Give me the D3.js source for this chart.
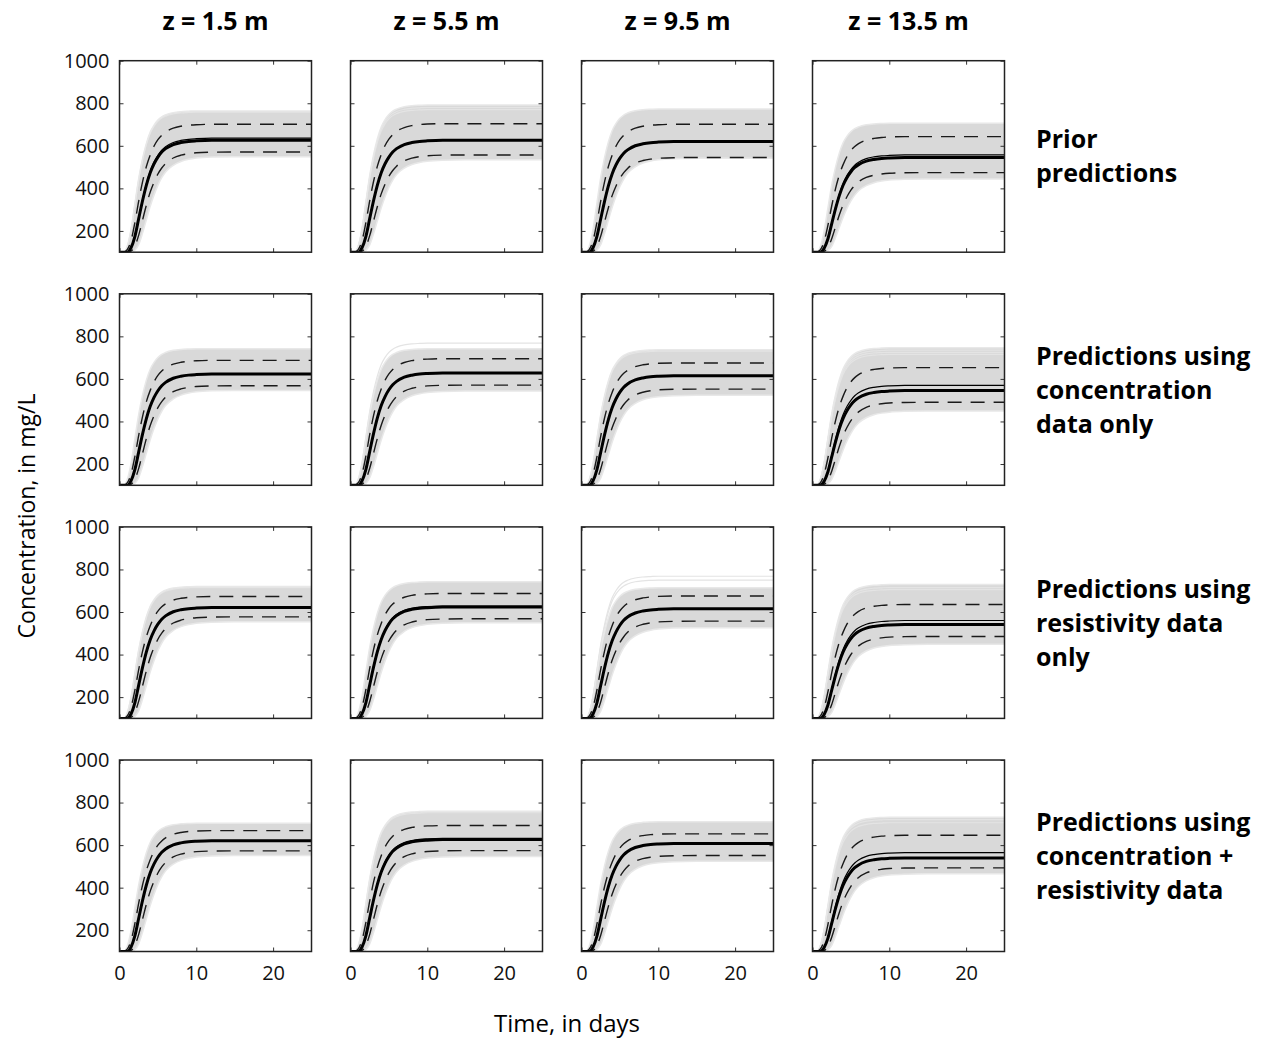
<!DOCTYPE html>
<head>
  <meta charset="utf-8">
  <script src="https://d3js.org/d3.v7.min.js"></script>
  <style>
    body { margin: 0; background: #fff; }
    svg { display: block; font-family: "Open Sans", sans-serif; }
  </style>
</head>
<body>
  <svg width="1263" height="1038"></svg>
  <script>
    // column / row headings
    const columns = ['z = 1.5 m', 'z = 5.5 m', 'z = 9.5 m', 'z = 13.5 m'];
    const rowLabels = [
      ['Prior', 'predictions'],
      ['Predictions using', 'concentration', 'data only'],
      ['Predictions using', 'resistivity data', 'only'],
      ['Predictions using', 'concentration +', 'resistivity data']
    ];
    const yTicks = [200, 400, 600, 800, 1000];
    const xTicks = [0, 10, 20];

    // time grid (days) and normalized breakthrough shapes
    const times = [0, 0.5, 1, 1.5, 2, 2.5, 3, 3.5, 4, 4.5, 5, 5.5, 6, 7, 8, 9, 10, 12, 15, 25];
    const shapeBandHi = [0, 0, 0.04, 0.16, 0.34, 0.52, 0.66, 0.77, 0.85, 0.9, 0.935, 0.958, 0.972, 0.988, 0.995, 0.998, 1, 1, 1, 1];
    const shapeDashHi = [0, 0, 0.02, 0.09, 0.23, 0.4, 0.55, 0.67, 0.76, 0.83, 0.88, 0.915, 0.94, 0.97, 0.985, 0.993, 0.997, 1, 1, 1];
    const shapeMean   = [0, 0, 0, 0.04, 0.14, 0.3, 0.46, 0.6, 0.71, 0.79, 0.85, 0.895, 0.925, 0.962, 0.98, 0.99, 0.995, 1, 1, 1];
    const shapeDashLo = [0, 0, 0, 0.01, 0.06, 0.17, 0.32, 0.47, 0.6, 0.7, 0.78, 0.84, 0.885, 0.94, 0.968, 0.983, 0.992, 0.998, 1, 1];
    const shapeBandLo = [0, 0, 0, 0, 0.02, 0.08, 0.2, 0.34, 0.48, 0.6, 0.7, 0.78, 0.84, 0.91, 0.95, 0.972, 0.985, 0.996, 1, 1];
    const baseConc = 100;

    // plateau levels (mg/L) per row (data set) x column (depth)
    const bandHi  = [[764, 792, 773, 706], [742, 742, 737, 746], [720, 742, 714, 729], [703, 759, 710, 731]];
    const dashHi  = [[701, 704, 701, 643], [687, 695, 675, 653], [673, 687, 675, 635], [668, 692, 653, 646]];
    const meanLvl = [[626, 626, 620, 545], [623, 628, 615, 545], [621, 623, 615, 541], [621, 626, 608, 540]];
    const thinLvl = [[636, null, null, 557], [null, null, null, 570], [null, 628, null, 560], [null, 632, null, 565]];
    const dashLo  = [[571, 557, 545, 474], [568, 571, 552, 490], [577, 568, 557, 485], [573, 574, 551, 493]];
    const bandLo  = [[549, 534, 541, 444], [546, 543, 523, 449], [554, 549, 526, 448], [551, 546, 524, 465]];
    // a few pale ensemble members standing out at the top of the band
    const paleLvl = [
      [[758], [780, 770], [], []],
      [[], [768], [730], [735, 725, 715]],
      [[715], [], [768, 750], [715, 705]],
      [[], [752], [], [720, 705]]
    ];

    // layout
    const left0 = 119.5, colStep = 231, top0 = 60.7, rowStep = 233.1;
    const pw = 192, ph = 191.5;

    const svg = d3.select('svg');

    const x = d3.scaleLinear().domain([0, 25]).range([0, pw]);
    const y = d3.scaleLinear().domain([100, 1000]).range([ph, 0]);

    const series = (shape, level) => times.map((t, i) => ({ t, v: baseConc + (level - baseConc) * shape[i] }));

    const line = d3.line()
      .x(d => x(d.t))
      .y(d => y(d.v))
      .curve(d3.curveMonotoneX);

    const area = d3.area()
      .x(d => x(d.t))
      .y0(d => y(d.lo))
      .y1(d => y(d.hi))
      .curve(d3.curveMonotoneX);

    const defs = svg.append('defs');
    defs.append('clipPath').attr('id', 'clip')
      .append('rect').attr('width', pw).attr('height', ph);

    for (let r = 0; r < 4; r++) {
      for (let c = 0; c < 4; c++) {
        const g = svg.append('g')
          .attr('transform', `translate(${left0 + c * colStep},${top0 + r * rowStep})`);

        const plot = g.append('g').attr('clip-path', 'url(#clip)');

        // grey ensemble band
        const hi = series(shapeBandHi, bandHi[r][c]);
        const lo = series(shapeBandLo, bandLo[r][c]);
        plot.append('path')
          .datum(times.map((t, i) => ({ t, hi: hi[i].v, lo: lo[i].v })))
          .attr('fill', '#d9d9d9')
          .attr('d', area);

        paleLvl[r][c].forEach(p => {
          plot.append('path')
            .datum(series(shapeBandHi, p))
            .attr('fill', 'none')
            .attr('stroke', '#e4e4e4')
            .attr('stroke-width', 1.2)
            .attr('d', line);
        });
        // light edge lines
        [hi, lo].forEach(s => {
          plot.append('path').datum(s)
            .attr('fill', 'none')
            .attr('stroke', '#e8e8e8')
            .attr('stroke-width', 1.5)
            .attr('d', line);
        });

        // dashed percentiles
        [series(shapeDashHi, dashHi[r][c]), series(shapeDashLo, dashLo[r][c])].forEach(s => {
          plot.append('path').datum(s)
            .attr('fill', 'none')
            .attr('stroke', '#1a1a1a')
            .attr('stroke-width', 1.4)
            .attr('stroke-dasharray', '14,9')
            .attr('d', line);
        });

        // thin second black line
        if (thinLvl[r][c] !== null) {
          plot.append('path').datum(series(shapeMean, thinLvl[r][c]))
            .attr('fill', 'none')
            .attr('stroke', '#000')
            .attr('stroke-width', 1.2)
            .attr('d', line);
        }

        // mean curve
        plot.append('path').datum(series(shapeMean, meanLvl[r][c]))
          .attr('fill', 'none')
          .attr('stroke', '#000')
          .attr('stroke-width', 3)
          .attr('d', line);

        // axes with inward ticks on all four sides
        const axL = g.append('g').call(d3.axisLeft(y).tickValues(yTicks)
          .tickSizeInner(-4).tickSizeOuter(0).tickPadding(10)
          .tickFormat(c === 0 ? d3.format('d') : ''));
        const axR = g.append('g').attr('transform', `translate(${pw},0)`)
          .call(d3.axisRight(y).tickValues(yTicks).tickSizeInner(-4).tickSizeOuter(0).tickFormat(''));
        const axB = g.append('g').attr('transform', `translate(0,${ph})`)
          .call(d3.axisBottom(x).tickValues(xTicks).tickSizeInner(-4).tickSizeOuter(0).tickPadding(14)
            .tickFormat(r === 3 ? d3.format('d') : ''));
        const axT = g.append('g')
          .call(d3.axisTop(x).tickValues(xTicks).tickSizeInner(-4).tickSizeOuter(0).tickFormat(''));

        [axL, axR, axB, axT].forEach(a => {
          a.select('.domain').remove();
          a.selectAll('line').attr('stroke', '#333');
          a.selectAll('text')
            .attr('fill', '#111')
            .style('font-size', '20px')
            .style('font-family', '"Open Sans", sans-serif');
        });

        g.append('rect')
          .attr('width', pw).attr('height', ph)
          .attr('fill', 'none')
          .attr('stroke', '#222')
          .attr('stroke-width', 1.5);
      }
    }

    // column headings
    svg.selectAll('.colhead').data(columns).join('text')
      .attr('class', 'colhead')
      .attr('x', (d, i) => left0 + i * colStep + pw / 2)
      .attr('y', 30)
      .attr('text-anchor', 'middle')
      .style('font-size', '25px')
      .style('font-weight', 700)
      .text(d => d);

    // row headings
    rowLabels.forEach((lines, r) => {
      const cy = top0 + r * rowStep + ph / 2;
      const t = svg.append('text')
        .attr('x', 1036)
        .style('font-size', '25px')
        .style('font-weight', 700);
      lines.forEach((s, k) => {
        t.append('tspan')
          .attr('x', 1036)
          .attr('y', cy + (k - (lines.length - 1) / 2) * 34 + 9)
          .text(s);
      });
    });

    // axis titles
    svg.append('text')
      .attr('transform', `translate(35,516)rotate(-90)`)
      .attr('text-anchor', 'middle')
      .style('font-size', '23px')
      .text('Concentration, in mg/L');

    svg.append('text')
      .attr('x', 567)
      .attr('y', 1032)
      .attr('text-anchor', 'middle')
      .style('font-size', '24px')
      .text('Time, in days');
  </script>
</body>
